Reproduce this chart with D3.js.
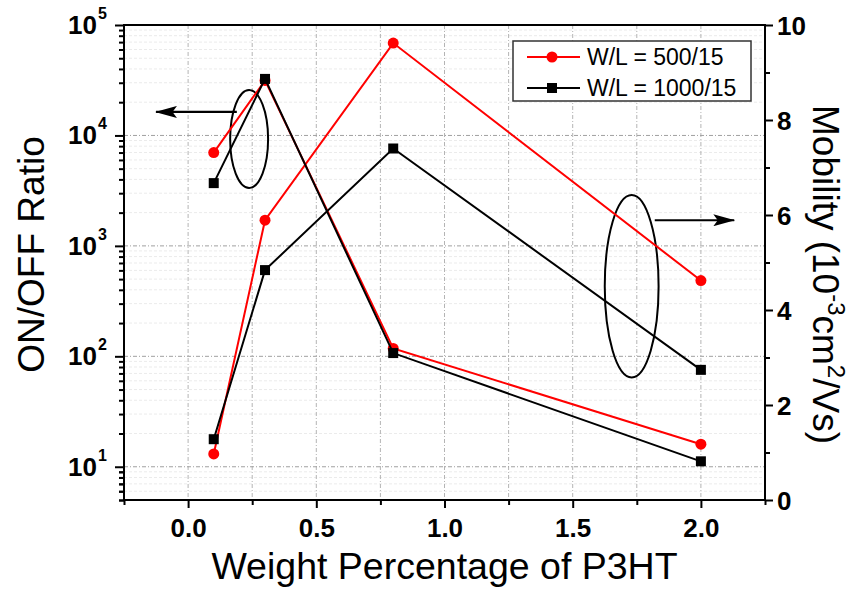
<!DOCTYPE html>
<html>
<head>
<meta charset="utf-8">
<script src="https://cdn.jsdelivr.net/npm/d3@7"></script>
<style>
  html, body { margin: 0; padding: 0; background: #fff; }
  svg { display: block; }
  text { font-family: "Liberation Sans", Arial, Helvetica, sans-serif; }
</style>
</head>
<body>
<svg id="chart" width="858" height="590"></svg>
<script>
// ---------------- data ----------------
const weights = [0.1, 0.3, 0.8, 2.0];
const onoff500 = [7000, 31500, 118, 16];
const onoff1000 = [3700, 32500, 107, 11.2];
const mob500 = [0.97, 5.89, 9.62, 4.62];
const mob1000 = [1.28, 4.84, 7.40, 2.74];
const seriesNames = ["W/L = 500/15", "W/L = 1000/15"];
const xTicks = [0.0, 0.5, 1.0, 1.5, 2.0];
const yLeftTicks = [10, 100, 1000, 10000, 100000];
const yRightTicks = [0, 2, 4, 6, 8, 10];

// ---------------- layout ----------------
const svg = d3.select("#chart");
const L = 124, R = 765, T = 25, B = 500;
const x = d3.scaleLinear().domain([-0.25, 2.25]).range([L, R]);
const yL = d3.scaleLog().domain([5, 100000]).range([B, T]);
const yR = d3.scaleLinear().domain([0, 10]).range([B, T]);
const red = "#ff0000", blk = "#000000";

// ---------------- grid ----------------
const grid = svg.append("g");
const minorLog = [];
[1, 10, 100, 1000, 10000].forEach(d => { for (let k = 2; k <= 9; k++) { const v = d * k; if (v >= 5 && v < 100000) minorLog.push(v); } });
grid.selectAll(".gm").data(minorLog).enter().append("line")
  .attr("x1", L).attr("x2", R).attr("y1", d => yL(d)).attr("y2", d => yL(d))
  .attr("stroke", "#ebebeb").attr("stroke-width", 1).attr("stroke-dasharray", "3,2");
const xGrid = d3.range(0, 2.01, 0.25);
grid.selectAll(".gx").data(xGrid).enter().append("line")
  .attr("x1", d => x(d)).attr("x2", d => x(d)).attr("y1", T).attr("y2", B)
  .attr("stroke", "#b4b4b4").attr("stroke-width", 1).attr("stroke-dasharray", "4,2,1,2");
grid.selectAll(".gy").data(yLeftTicks.slice(0, 4)).enter().append("line")
  .attr("x1", L).attr("x2", R).attr("y1", d => yL(d)).attr("y2", d => yL(d))
  .attr("stroke", "#a0a0a0").attr("stroke-width", 1).attr("stroke-dasharray", "4,2,1,2");

// ---------------- annotations ----------------
const defs = svg.append("defs");
defs.append("marker").attr("id", "ah").attr("viewBox", "0 0 20 12")
  .attr("refX", 19).attr("refY", 6).attr("markerWidth", 22).attr("markerHeight", 12)
  .attr("markerUnits", "userSpaceOnUse").attr("orient", "auto").attr("preserveAspectRatio", "none")
  .append("path").attr("d", "M0,0 L20,6 L0,12 L4,6 Z").attr("fill", "#000");
const ann = svg.append("g");
// left ellipse + arrow (ON/OFF ratio -> left axis)
ann.append("ellipse").attr("cx", x(0.238)).attr("cy", yR(7.6))
  .attr("rx", x(0.238 + 0.074) - x(0.238)).attr("ry", yR(0) - yR(1.03))
  .attr("fill", "none").attr("stroke", "#000").attr("stroke-width", 2);
ann.append("line").attr("x1", x(0.19)).attr("y1", yR(8.17)).attr("x2", x(-0.125)).attr("y2", yR(8.17))
  .attr("stroke", "#000").attr("stroke-width", 2.2).attr("marker-end", "url(#ah)");
// right ellipse + arrow (mobility -> right axis)
ann.append("ellipse").attr("cx", x(1.73)).attr("cy", yR(4.5))
  .attr("rx", x(1.73 + 0.105) - x(1.73)).attr("ry", yR(0) - yR(1.92))
  .attr("fill", "none").attr("stroke", "#000").attr("stroke-width", 2);
ann.append("line").attr("x1", x(1.82)).attr("y1", yR(5.89)).attr("x2", x(2.13)).attr("y2", yR(5.89))
  .attr("stroke", "#000").attr("stroke-width", 2.2).attr("marker-end", "url(#ah)");

// ---------------- series ----------------
const plot = svg.append("g");
function drawSeries(vals, yScale, color, shape) {
  const pts = weights.map((w, i) => [w, vals[i]]);
  plot.append("path").datum(pts)
    .attr("d", d3.line().x(d => x(d[0])).y(d => yScale(d[1])))
    .attr("fill", "none").attr("stroke", color).attr("stroke-width", 2);
  if (shape === "circle") {
    plot.selectAll(null).data(pts).enter().append("circle")
      .attr("cx", d => x(d[0])).attr("cy", d => yScale(d[1])).attr("r", 5.5).attr("fill", color);
  } else {
    plot.selectAll(null).data(pts).enter().append("rect")
      .attr("x", d => x(d[0]) - 5).attr("y", d => yScale(d[1]) - 5)
      .attr("width", 10).attr("height", 10).attr("fill", color);
  }
}
drawSeries(onoff500, yL, red, "circle");
drawSeries(mob500, yR, red, "circle");
drawSeries(onoff1000, yL, blk, "square");
drawSeries(mob1000, yR, blk, "square");

// ---------------- axes ----------------
const axes = svg.append("g");
function styleAxis(g) {
  g.select(".domain").remove();
  g.selectAll(".tick line").attr("stroke", "#000").attr("stroke-width", 2);
}
// bottom
axes.append("g").attr("transform", `translate(0,${B})`)
  .call(d3.axisBottom(x).tickValues(xTicks).tickSize(8).tickFormat(d3.format(".1f")))
  .call(styleAxis)
  .call(g => g.selectAll("text").attr("font-size", 26).attr("font-weight", "bold").attr("fill", "#000").attr("dy", "1.0em"));
axes.append("g").attr("transform", `translate(0,${B})`)
  .call(d3.axisBottom(x).tickValues(d3.range(-0.25, 2.3, 0.5)).tickSize(5).tickFormat(""))
  .call(styleAxis);
// left (log)
axes.append("g").attr("transform", `translate(${L},0)`)
  .call(d3.axisLeft(yL).tickValues(yLeftTicks).tickSize(9).tickFormat(""))
  .call(styleAxis);
axes.append("g").attr("transform", `translate(${L},0)`)
  .call(d3.axisLeft(yL).tickValues(minorLog.concat([5, 6, 7, 8, 9])).tickSize(5).tickFormat(""))
  .call(styleAxis);
const lbl = axes.append("g");
yLeftTicks.forEach(v => {
  const e = Math.round(Math.log10(v));
  lbl.append("text").attr("x", 97).attr("y", yL(v) + 9)
    .attr("text-anchor", "end").attr("font-size", 26).attr("font-weight", "bold").attr("fill", "#000").text("10");
  lbl.append("text").attr("x", 98).attr("y", yL(v) - 6)
    .attr("font-size", 16).attr("font-weight", "bold").attr("fill", "#000").text(e);
});
// right
axes.append("g").attr("transform", `translate(${R},0)`)
  .call(d3.axisRight(yR).tickValues(yRightTicks).tickSize(8).tickFormat(d3.format("d")))
  .call(styleAxis)
  .call(g => g.selectAll("text").attr("font-size", 26).attr("font-weight", "bold").attr("fill", "#000").attr("x", 12).attr("dy", "0.36em"));
axes.append("g").attr("transform", `translate(${R},0)`)
  .call(d3.axisRight(yR).tickValues([1, 3, 5, 7, 9]).tickSize(5).tickFormat(""))
  .call(styleAxis);
// frame
axes.append("rect").attr("x", L).attr("y", T).attr("width", R - L).attr("height", B - T)
  .attr("fill", "none").attr("stroke", "#000").attr("stroke-width", 2);

// ---------------- titles ----------------
svg.append("text").attr("x", (L + R) / 2).attr("y", 579).attr("text-anchor", "middle")
  .attr("font-size", 37.5).attr("fill", "#000").text("Weight Percentage of P3HT");
svg.append("text").attr("transform", `translate(44,${(T + B) / 2 - 8}) rotate(-90)`)
  .attr("text-anchor", "middle").attr("font-size", 37).attr("fill", "#000").text("ON/OFF Ratio");
const rt = svg.append("text").attr("transform", `translate(813,${(T + B) / 2 + 12}) rotate(90)`)
  .attr("text-anchor", "middle").attr("font-size", 37).attr("fill", "#000");
rt.append("tspan").text("Mobility (10");
rt.append("tspan").attr("font-size", 24).attr("dy", -15).text("-3");
rt.append("tspan").attr("dy", 15).text("cm");
rt.append("tspan").attr("font-size", 24).attr("dy", -15).text("2");
rt.append("tspan").attr("dy", 15).text("/Vs)");

// ---------------- legend ----------------
const lg = svg.append("g");
lg.append("rect").attr("x", 513).attr("y", 41).attr("width", 238).attr("height", 60)
  .attr("fill", "#fff").attr("stroke", "#333").attr("stroke-width", 1.5);
const legendItems = [{ name: seriesNames[0], color: red, shape: "circle" }, { name: seriesNames[1], color: blk, shape: "square" }];
legendItems.forEach((it, i) => {
  const yy = 57 + i * 31;
  lg.append("line").attr("x1", 527).attr("x2", 580).attr("y1", yy).attr("y2", yy)
    .attr("stroke", it.color).attr("stroke-width", 2);
  if (it.shape === "circle") lg.append("circle").attr("cx", 552).attr("cy", yy).attr("r", 5.5).attr("fill", it.color);
  else lg.append("rect").attr("x", 547).attr("y", yy - 5).attr("width", 10).attr("height", 10).attr("fill", it.color);
  lg.append("text").attr("x", 587).attr("y", yy + 8).attr("font-size", 23).attr("fill", "#000").text(it.name);
});
</script>
</body>
</html>
